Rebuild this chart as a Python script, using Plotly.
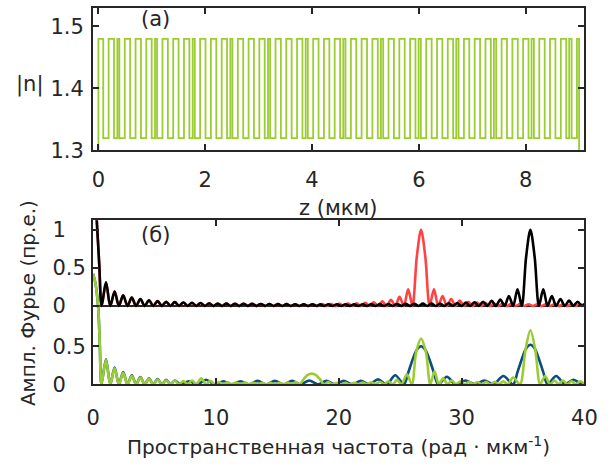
import plotly.graph_objects as go

# ---------------- panel (a): refractive-index profile ----------------
Z_END = 9.0
N_SUB = 1.30
N_HIGH = 1.48
N_LOW = 1.32
# regular switching points of the layer structure (um)
Z_GRID = [0.090, 0.191, 0.292, 0.392, 0.493, 0.594, 0.695, 0.796, 0.896, 0.997,
          1.098, 1.199, 1.300, 1.400, 1.501, 1.602, 1.703, 1.804, 1.904, 2.005,
          2.106, 2.207, 2.308, 2.408, 2.509, 2.610, 2.711, 2.812, 2.912, 3.013,
          3.114, 3.215, 3.316, 3.416, 3.517, 3.618, 3.719, 3.820, 3.920, 4.021,
          4.122, 4.223, 4.324, 4.424, 4.525, 4.626, 4.727, 4.828, 4.928, 5.029,
          5.130, 5.231, 5.332, 5.432, 5.533, 5.634, 5.735, 5.836, 5.936, 6.037,
          6.138, 6.239, 6.340, 6.440, 6.541, 6.642, 6.743, 6.844, 6.944, 7.045,
          7.146, 7.247, 7.348, 7.448, 7.549, 7.650, 7.751, 7.852, 7.952, 8.053,
          8.154, 8.255, 8.356, 8.456, 8.557, 8.658, 8.759, 8.860, 8.960]
# phase-flip points (narrow double edges)
Z_FLIP = [0.355, 1.060, 1.765, 2.470, 3.175, 3.880, 4.585, 5.290, 5.995,
          6.700, 7.405, 8.110, 8.815]

# ---------------- panel (b): Fourier amplitudes ----------------
OFFSET_UP = 1.03  # vertical offset of the upper pair of spectra

BLACK_K = [0, 0.15, 0.3, 0.5, 0.7,
           1.05, 1.4, 1.75, 2.1, 2.45, 2.8, 3.15, 3.5, 3.85, 4.2, 4.55, 4.9, 5.25, 5.6, 5.95, 6.3,
           6.65, 7.0, 7.35, 7.7, 8.05, 8.4, 8.75, 9.1, 9.45, 9.8, 10.15, 10.5, 10.85, 11.2, 11.55, 11.9,
           12.25, 12.6, 12.95, 13.3, 13.65, 14.0, 14.35, 14.7, 15.05, 15.4, 15.75, 16.1, 16.45, 16.8,
           17.15, 17.5, 17.85, 18.2, 18.5, 18.8,
           19.15, 19.5, 19.85, 20.2, 20.55, 20.9, 21.25, 21.6, 21.95, 22.3, 22.65, 23.0, 23.35, 23.7,
           24.05, 24.4, 24.75, 25.1, 25.45, 25.8, 26.15, 26.5, 26.85, 27.2, 27.55, 27.9, 28.25, 28.6,
           28.95, 29.3, 29.65, 30.0, 30.35, 30.7, 31.05, 31.4, 31.75, 32.1, 32.45, 32.8, 33.15, 33.5,
           33.85, 34.2, 34.55, 34.9, 35.25, 35.6, 35.95, 36.3,
           36.65, 37.0, 37.35, 37.7, 38.05, 38.4, 38.75, 39.1, 39.45, 39.8, 40.0]
BLACK_V = [1.6, 1.45, 1.12, 0.55, 0,
           0.31, 0, 0.19, 0, 0.14, 0, 0.11, 0, 0.09, 0, 0.075, 0, 0.064, 0, 0.056, 0,
           0.05, 0, 0.045, 0, 0.041, 0, 0.038, 0, 0.035, 0, 0.033, 0, 0.031, 0, 0.029, 0,
           0.028, 0, 0.027, 0, 0.026, 0, 0.025, 0, 0.024, 0, 0.024, 0, 0.023, 0,
           0.023, 0, 0.022, 0, 0.02, 0,
           0.022, 0, 0.022, 0, 0.022, 0, 0.023, 0, 0.023, 0, 0.024, 0, 0.024, 0,
           0.025, 0, 0.026, 0, 0.027, 0, 0.028, 0, 0.03, 0, 0.031, 0, 0.033, 0,
           0.036, 0, 0.039, 0, 0.043, 0, 0.048, 0, 0.056, 0, 0.066, 0, 0.085, 0,
           0.13, 0, 0.22, 0, 0.64, 1.0, 0.64, 0,
           0.22, 0, 0.13, 0, 0.09, 0, 0.07, 0, 0.056, 0, 0.03]

RED_K = [0, 0.15, 0.3, 0.5, 0.7,
         1.05, 1.4, 1.75, 2.1, 2.45, 2.8, 3.15, 3.5, 3.85, 4.2, 4.55, 4.9, 5.25, 5.6, 5.95, 6.3,
         6.65, 7.0, 7.35, 7.7, 8.05, 8.4, 8.75, 9.1, 9.45, 9.8, 10.15, 10.5, 10.85, 11.2, 11.55, 11.9,
         12.25, 12.6, 12.95, 13.3, 13.65, 14.0, 14.35, 14.7, 15.05, 15.4, 15.75, 16.1, 16.45, 16.8,
         17.15, 17.5, 17.9, 18.3,
         18.65, 19.0, 19.35, 19.7, 20.05, 20.4, 20.75, 21.1, 21.45, 21.8, 22.15, 22.5, 22.85, 23.2,
         23.55, 23.9, 24.25, 24.6, 24.95, 25.3, 25.65, 26.0,
         26.35, 26.7, 27.05, 27.4,
         27.75, 28.1, 28.45, 28.8, 29.15, 29.5, 29.85, 30.2, 30.55, 30.9, 31.25, 31.6, 31.95, 32.3,
         32.65, 33.0, 33.35, 33.7, 34.05, 34.4, 34.75, 35.1, 35.45, 35.8, 36.15, 36.5, 36.85, 37.2,
         37.55, 37.9, 38.25, 38.6, 38.95, 39.3, 39.65, 40.0]
RED_V = [1.6, 1.45, 1.12, 0.55, 0,
         0.31, 0, 0.19, 0, 0.14, 0, 0.11, 0, 0.09, 0, 0.075, 0, 0.064, 0, 0.056, 0,
         0.05, 0, 0.045, 0, 0.041, 0, 0.038, 0, 0.035, 0, 0.033, 0, 0.031, 0, 0.029, 0,
         0.028, 0, 0.027, 0, 0.026, 0, 0.025, 0, 0.024, 0, 0.024, 0, 0.023, 0,
         0.023, 0, 0.023, 0,
         0.024, 0, 0.026, 0, 0.028, 0, 0.031, 0, 0.035, 0, 0.04, 0, 0.048, 0,
         0.06, 0, 0.08, 0, 0.12, 0, 0.22, 0,
         0.64, 1.0, 0.64, 0,
         0.22, 0, 0.13, 0, 0.09, 0, 0.07, 0, 0.055, 0, 0.045, 0, 0.038, 0,
         0.033, 0, 0.03, 0, 0.027, 0, 0.025, 0, 0.023, 0, 0.022, 0, 0.021, 0,
         0.02, 0, 0.019, 0, 0.018, 0, 0.017, 0]

BLUE_K = [0, 0.2, 0.42, 0.55, 0.68,
          1.05, 1.4, 1.75, 2.1, 2.45, 2.8, 3.15, 3.5, 3.85, 4.2, 4.55, 4.9, 5.25, 5.6, 5.95, 6.3,
          6.65, 7.1,
          7.8, 8.5, 9.2, 9.9, 10.6, 11.3, 12.0, 12.7, 13.4, 14.1, 14.8, 15.5, 16.2, 16.9, 17.6, 18.3,
          19.0, 19.7, 20.4, 21.1, 21.8, 22.5, 23.2, 23.9, 24.6, 25.3,
          25.65, 26.0, 26.35, 26.7, 27.05, 27.4, 27.75, 28.1,
          28.8, 29.5, 30.3, 31.1, 31.85, 32.6, 33.4, 34.2,
          34.55, 34.9, 35.25, 35.6, 35.95, 36.3, 36.65, 37.0,
          37.7, 38.4, 39.1, 39.8, 40.0]
BLUE_V = [1.45, 1.32, 1.0, 0.5, 0,
          0.33, 0, 0.22, 0, 0.16, 0, 0.12, 0, 0.095, 0, 0.08, 0, 0.068, 0, 0.058, 0,
          0.05, 0,
          0.04, 0, 0.06, 0, 0.04, 0, 0.04, 0, 0.045, 0, 0.045, 0, 0.045, 0, 0.05, 0,
          0.045, 0, 0.045, 0, 0.045, 0, 0.065, 0, 0.12, 0,
          0.15, 0.32, 0.45, 0.5, 0.45, 0.32, 0.15, 0,
          0.1, 0, 0.05, 0, 0.05, 0, 0.11, 0,
          0.16, 0.33, 0.47, 0.52, 0.47, 0.33, 0.16, 0,
          0.11, 0, 0.06, 0, 0.02]

GREEN_K = [0, 0.2, 0.42, 0.55, 0.68,
           1.05, 1.4, 1.75, 2.1, 2.45, 2.8, 3.15, 3.5, 3.85, 4.2, 4.55, 4.9, 5.25, 5.6, 5.95, 6.3,
           6.65, 7.0, 7.35, 7.7,
           8.05, 8.4, 8.8, 9.2, 9.55, 9.9, 10.25, 10.6, 10.95, 11.3, 11.65, 12.0, 12.35, 12.7,
           13.05, 13.4, 13.75, 14.1, 14.45, 14.8, 15.15, 15.5, 15.85, 16.2, 16.5, 16.8,
           17.15, 17.45, 17.8, 18.15, 18.45, 18.8,
           19.15, 19.5, 19.85, 20.2, 20.55, 20.9, 21.25, 21.6, 21.95, 22.3, 22.65, 23.0, 23.35, 23.7,
           24.05, 24.4, 24.75, 25.1, 25.55, 25.95,
           26.3, 26.7, 27.1, 27.45,
           27.8, 28.15, 28.5, 28.85, 29.2, 29.55, 29.9, 30.25, 30.6, 30.95, 31.3, 31.65, 32.0, 32.35,
           32.7, 33.05, 33.4, 33.75, 34.2, 34.75,
           35.2, 35.6, 36.0, 36.4,
           36.8, 37.2, 37.55, 37.9, 38.25, 38.6, 38.95, 39.3, 39.65, 40.0]
GREEN_V = [1.45, 1.32, 1.0, 0.5, 0,
           0.32, 0, 0.21, 0, 0.15, 0, 0.11, 0, 0.09, 0, 0.075, 0, 0.062, 0, 0.053, 0,
           0.046, 0, 0.042, 0,
           0.05, 0, 0.08, 0, 0.045, 0, 0.03, 0, 0.026, 0, 0.024, 0, 0.022, 0,
           0.021, 0, 0.02, 0, 0.02, 0, 0.021, 0, 0.024, 0, 0.03, 0,
           0.07, 0.12, 0.14, 0.12, 0.07, 0,
           0.03, 0, 0.02, 0, 0.02, 0, 0.021, 0, 0.024, 0, 0.028, 0, 0.033, 0,
           0.04, 0, 0.06, 0, 0.13, 0,
           0.42, 0.6, 0.42, 0,
           0.17, 0, 0.08, 0, 0.05, 0, 0.04, 0, 0.032, 0, 0.03, 0, 0.03, 0,
           0.032, 0, 0.04, 0, 0.09, 0,
           0.45, 0.71, 0.45, 0,
           0.11, 0, 0.05, 0, 0.05, 0, 0.04, 0, 0.04, 0]

for a, b in [(BLACK_K, BLACK_V), (RED_K, RED_V), (BLUE_K, BLUE_V), (GREEN_K, GREEN_V)]:
    assert len(a) == len(b), (len(a), len(b))

X_TICKS_A = [0, 2, 4, 6, 8]
Y_TICKS_A = [1.3, 1.4, 1.5]
X_TICKS_B = [0, 10, 20, 30, 40]
NBSP = "\u00a0"
Y_TICKVALS_B = [0, 0.5, OFFSET_UP, OFFSET_UP + 0.5, OFFSET_UP + 1.0]
Y_TICKTEXT_B = ["0" + NBSP * 3, "0.5", "0" + NBSP * 3, "0.5", "1" + NBSP * 3]

GREEN = "#9ACD32"
RED = "#FF4343"
BLUE = "#0A4D7E"
BLACK = "#000000"
AXC = "#262626"
FONT = "DejaVu Sans, Liberation Sans, Arial, sans-serif"
TICK_SIZE = 21
TITLE_SIZE = 20

# ---------------- build step profile ----------------
edges = sorted(Z_GRID + Z_FLIP)
zs = [0.0, 0.0]
ns = [N_SUB, N_HIGH]
level_high = True
for t in edges:
    level_high = not level_high
    zs.append(t)
    ns.append(N_HIGH if level_high else N_LOW)
zs.append(Z_END)
ns.append(N_SUB)

fig = go.Figure()
fig.add_trace(go.Scatter(x=zs, y=ns, mode="lines", line=dict(color=GREEN, width=1.8, shape="hv"),
                         xaxis="x", yaxis="y", hoverinfo="skip"))

def spec(k, v, color, off=0.0):
    return go.Scatter(x=k, y=[off + a for a in v], mode="lines",
                      line=dict(color=color, width=2.6, shape="spline", smoothing=0.9),
                      xaxis="x2", yaxis="y2", hoverinfo="skip")

fig.add_trace(spec(RED_K, RED_V, RED, OFFSET_UP))
fig.add_trace(spec(BLACK_K, BLACK_V, BLACK, OFFSET_UP))
fig.add_trace(spec(BLUE_K, BLUE_V, BLUE))
fig.add_trace(spec(GREEN_K, GREEN_V, GREEN))

AX = dict(showline=True, linecolor=AXC, linewidth=2, mirror="ticks", ticks="inside",
          ticklen=6, tickwidth=2, tickcolor=AXC, showgrid=False, zeroline=False,
          ticklabeloverflow="allow",
          tickfont=dict(family=FONT, size=TICK_SIZE, color=AXC))

XDOM = [89 / 610, 597 / 610]
fig.update_layout(
    width=610, height=472, margin=dict(l=0, r=0, t=0, b=0),
    paper_bgcolor="white", plot_bgcolor="white", showlegend=False,
    font=dict(family=FONT, size=TICK_SIZE, color=AXC),
    xaxis=dict(domain=XDOM, range=[-0.1, 9.1], tickvals=X_TICKS_A, anchor="y",
               ticklabelstandoff=9, **AX),
    yaxis=dict(domain=[1 - 153 / 472, 1 - 6 / 472], range=[1.3, 1.53], tickvals=Y_TICKS_A,
               ticktext=[f"{v:.1f}" for v in Y_TICKS_A], anchor="x", ticklabelstandoff=3, **AX),
    xaxis2=dict(domain=XDOM, range=[0, 40], tickvals=X_TICKS_B, anchor="y2",
                ticklabelstandoff=13, **AX),
    yaxis2=dict(domain=[1 - 394 / 472, 1 - 225 / 472], range=[0, 2.155], tickvals=Y_TICKVALS_B,
                ticktext=Y_TICKTEXT_B, anchor="x2", ticklabelstandoff=1, **AX),
)

fig.add_shape(type="line", xref="paper", yref="y2", x0=XDOM[0], x1=XDOM[1],
              y0=OFFSET_UP, y1=OFFSET_UP, line=dict(color=AXC, width=2), layer="below")

def ann(text, x, y, size=TITLE_SIZE, angle=0):
    fig.add_annotation(text=text, x=x / 610, y=1 - y / 472, xref="paper", yref="paper",
                       showarrow=False, xanchor="center", yanchor="middle", textangle=angle,
                       font=dict(family=FONT, size=size, color=AXC))

ann("(a)", 154, 18, size=21)
ann("(б)", 154, 240, size=21)
ann("|n|", 23, 85, size=21)
ann("z (мкм)", 342, 212, size=21)
ann("Ампл. Фурье (пр.е.)", 22, 310, angle=-90)
ann("Пространственная частота (рад · мкм<sup>-1</sup>)", 343, 458)

fig.write_html("out.html")
